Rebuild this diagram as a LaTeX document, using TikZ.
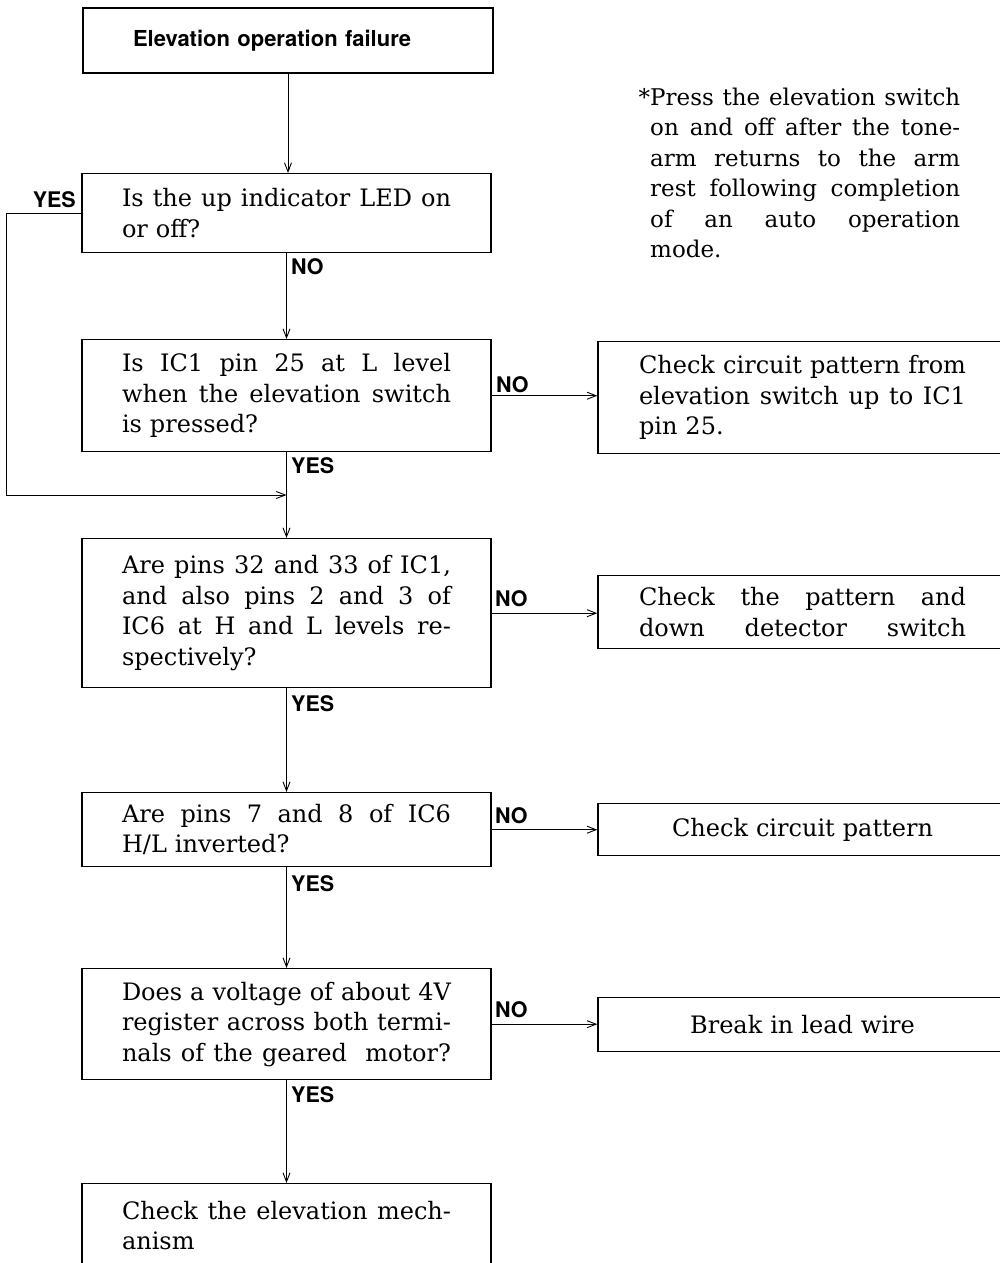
\documentclass[tikz,border=0pt]{standalone}
\usepackage{fontspec}
\setmainfont{DejaVu Serif}
\newfontfamily\labfont{TeX Gyre Heros}
\usetikzlibrary{arrows.meta}
\newcommand{\jl}[2][329pt]{\leavevmode\hbox to #1{\spaceskip=0pt\xspaceskip=0pt\relax #2}}
\begin{document}
\begin{tikzpicture}[x=1pt,y=-1pt,
  txt/.style={font=\fontsize{24}{30.5}\selectfont},
  box/.style={txt, draw, line width=1.4pt, inner xsep=40pt, inner ysep=0pt,
    text width=329pt, align=left, anchor=north},
  rbox/.style={txt, draw, line width=1.4pt, inner xsep=41pt, inner ysep=0pt,
    text width=327pt, anchor=north},
  lab/.style={font=\labfont\bfseries\fontsize{21.5}{24}\selectfont, inner sep=0pt, anchor=base west},
  conn/.style={draw, line width=0.9pt, -{Straight Barb[length=9pt,width=7pt]}},
  plain/.style={draw, line width=0.9pt}
]
\useasboundingbox (0,0) rectangle (1000,1263);

% main column
\node[draw, line width=2.4pt, anchor=north, inner xsep=50pt, inner ysep=0pt,
  text width=310pt, align=left, minimum height=65pt,
  font=\labfont\bfseries\fontsize{22}{26}\selectfont] (b1) at (288,7) {Elevation operation failure};

\node[box, minimum height=79pt] (b2) at (286.5,173)
  {\jl{Is the up indicator LED on}\\or off?};

\node[box, minimum height=112pt] (b3) at (286.5,339)
  {\jl{Is IC1 pin 25 at L level}\\\jl{when the elevation switch}\\is pressed?};

\node[box, minimum height=149pt] (b4) at (286.5,538)
  {\jl{Are pins 32 and 33 of IC1,}\\\jl{and also pins 2 and 3 of}\\\jl{IC6 at H and L levels re-}\\spectively?};

\node[box, minimum height=74pt] (b5) at (286.5,792)
  {\jl{Are pins 7 and 8 of IC6}\\H/L inverted?};

\node[box, minimum height=111pt] (b6) at (286.5,968)
  {\jl{Does a voltage of about 4V}\\\jl{register across both termi-}\\\jl{nals of the geared \ motor?}};

\node[box, minimum height=84pt] (b7) at (286.5,1183)
  {\jl{Check the elevation mech-}\\anism};

% right column
\node[rbox, align=left, minimum height=112pt] (r1) at (802.5,341)
  {\jl[327pt]{Check circuit pattern from}\\\jl[327pt]{elevation switch up to IC1}\\pin 25.};

\node[rbox, align=left, minimum height=73pt] (r2) at (802.5,575)
  {\jl[327pt]{Check the pattern and}\\\jl[327pt]{down detector switch}};

\node[rbox, align=center, minimum height=52pt] (r3) at (802.5,803)
  {Check circuit pattern};

\node[rbox, align=center, minimum height=54pt] (r4) at (802.5,997)
  {Break in lead wire};

% note
\node[font=\fontsize{23}{30.5}\selectfont, inner sep=0pt, anchor=north west, text width=310pt, align=left] (note) at (650,87.5)
  {\jl[310pt]{\llap{*}Press the elevation switch}\\\jl[310pt]{on and off after the tone-}\\\jl[310pt]{arm returns to the arm}\\\jl[310pt]{rest following completion}\\\jl[310pt]{of an auto operation}\\mode.};

% labels
\node[lab, anchor=base east] (y1) at (76,207) {YES};
\node[lab] (n1) at (291,274) {NO};
\node[lab] (y2) at (291,473) {YES};
\node[lab] (n2) at (496,392) {NO};
\node[lab] (n3) at (495,606) {NO};
\node[lab] (y3) at (291,711) {YES};
\node[lab] (n4) at (495,823) {NO};
\node[lab] (y4) at (291,891) {YES};
\node[lab] (n5) at (495,1017) {NO};
\node[lab] (y5) at (291,1102) {YES};

% connectors
\coordinate (lp1) at (6,213);
\coordinate (merge) at (286.5,495);
\draw[conn] (b1.south) -- (b1.south |- b2.north);
\draw[conn] (b2.south) -- (b3.north);
\draw[conn] (b3.south) -- (b4.north);
\draw[plain] (b2.west) -- (b2.west -| lp1) -- (lp1 |- merge);
\draw[conn] (lp1 |- merge) -- (merge);
\draw[conn] (b4.south) -- (b5.north);
\draw[conn] (b5.south) -- (b6.north);
\draw[conn] (b6.south) -- (b7.north);
\draw[conn] (b3.east) -- (b3.east -| r1.west);
\draw[conn] (b4.east) -- (b4.east -| r2.west);
\draw[conn] (b5.east) -- (b5.east -| r3.west);
\draw[conn] (b6.east) -- (b6.east -| r4.west);
\end{tikzpicture}
\end{document}
